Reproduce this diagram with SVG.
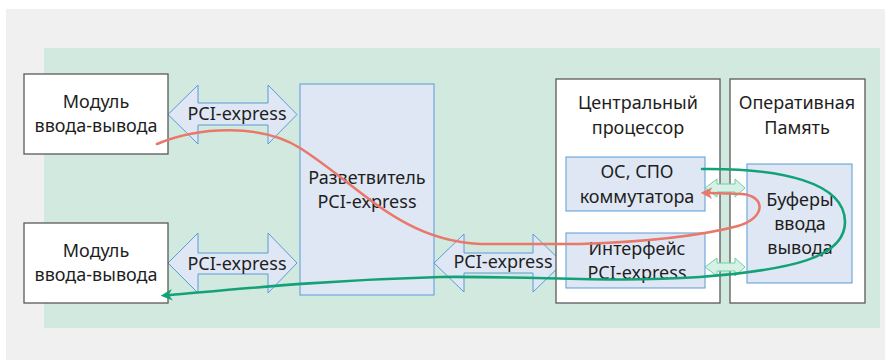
<svg xmlns="http://www.w3.org/2000/svg" width="886" height="360" viewBox="0 0 886 360">
  <style>
    text { font-family: "Noto Sans", "DejaVu Sans", sans-serif; font-size: 18px; fill: #1e1e1e; text-anchor: middle; }
    .box { fill: #ffffff; stroke: #5a5a5a; stroke-width: 1.3; }
    .blue { fill: #dfe7f4; stroke: #5b9bd5; stroke-width: 1; }
    .bus { fill: #dfe7f5; stroke: #5b9bd5; stroke-width: 1; }
    .link { fill: #d8f1e6; stroke: #6ccfa6; stroke-width: 1; }
    .flow { fill: none; stroke-width: 2.6; stroke-linecap: round; }
  </style>
  <defs>
    <marker id="headRed" viewBox="0 0 10 10" refX="2" refY="5" markerWidth="4.5" markerHeight="4.5" orient="auto-start-reverse" markerUnits="strokeWidth">
      <path d="M0,0 L10,5 L0,10 L3,5 Z" fill="#e8786a"/>
    </marker>
    <marker id="headGreen" viewBox="0 0 10 10" refX="2" refY="5" markerWidth="4.5" markerHeight="4.5" orient="auto-start-reverse" markerUnits="strokeWidth">
      <path d="M0,0 L10,5 L0,10 L3,5 Z" fill="#13a277"/>
    </marker>
  </defs>

  <!-- backgrounds -->
  <rect x="6" y="9" width="879" height="351" fill="#f0f0f0"/>
  <rect x="44" y="48" width="836" height="280" fill="#d1e9de"/>

  <!-- buses -->
  <g id="bus-top">
    <polygon class="bus" points="168,114.5 198,85 198,103 268,103 268,85 297,114.5 268,144 268,125 198,125 198,144"/>
    <text x="237" y="120">PCI-express</text>
  </g>
  <g id="bus-bottom">
    <polygon class="bus" points="168,263 198,233 198,253 268,253 268,233 297,263 268,293 268,274 198,274 198,293"/>
    <text x="237" y="270">PCI-express</text>
  </g>
  <g id="bus-cpu">
    <polygon class="bus" points="434,263 464,234 464,253 533,253 533,234 563,263 533,292 533,273 464,273 464,292"/>
    <text x="503" y="268">PCI-express</text>
  </g>

  <!-- I/O modules -->
  <g id="io-module-1">
    <rect class="box" x="24" y="74" width="144" height="80"/>
    <text x="96" y="108">Модуль</text>
    <text x="96" y="132">ввода-вывода</text>
  </g>
  <g id="io-module-2">
    <rect class="box" x="24" y="223" width="144" height="80"/>
    <text x="96" y="257">Модуль</text>
    <text x="96" y="281">ввода-вывода</text>
  </g>

  <!-- switch -->
  <g id="switch">
    <rect class="blue" x="300" y="84" width="134" height="211"/>
    <text x="367" y="184">Разветвитель</text>
    <text x="367" y="208">PCI-express</text>
  </g>

  <!-- CPU -->
  <g id="cpu">
    <rect class="box" x="556" y="79" width="164" height="224"/>
    <text x="638" y="109">Центральный</text>
    <text x="638" y="134">процессор</text>
  </g>
  <g id="os">
    <rect class="blue" x="566" y="157" width="139" height="54"/>
    <text x="637" y="178">ОС, СПО</text>
    <text x="637" y="203">коммутатора</text>
  </g>
  <g id="pcie-iface">
    <rect class="blue" x="566" y="233" width="139" height="55"/>
    <text x="637" y="255">Интерфейс</text>
    <text x="637" y="279">PCI-express</text>
  </g>

  <!-- RAM -->
  <g id="ram">
    <rect class="box" x="730" y="79" width="135" height="224"/>
    <text x="797" y="109">Оперативная</text>
    <text x="797" y="134">Память</text>
  </g>
  <g id="buffers">
    <rect class="blue" x="747" y="164" width="105" height="119"/>
    <text x="800" y="206">Буферы</text>
    <text x="800" y="230">ввода</text>
    <text x="800" y="254">вывода</text>
  </g>

  <!-- memory links -->
  <g id="link-os">
    <polygon class="link" points="705,188 717,179 717,184 735,184 735,179 745,188 735,197 735,192 717,192 717,197"/>
  </g>
  <g id="link-iface">
    <polygon class="link" points="705,267 717,258 717,263 735,263 735,258 745,267 735,276 735,271 717,271 717,276"/>
  </g>

  <!-- data flows -->
  <g id="connectors">
    <path class="flow" stroke="#e8786a" marker-end="url(#headRed)"
          d="M157,144 C200,126 262,124 300,148 C360,186 400,240 480,244 L580,244 C640,242 700,236 738,226 C766,218 766,196 742,194 L710,193"/>
    <path class="flow" stroke="#13a277" marker-end="url(#headGreen)"
          d="M702,169 C780,168 845,182 845,222 C845,258 790,270 700,277 C610,283 540,276 440,277 C330,280 250,288 170,295"/>
  </g>
</svg>
